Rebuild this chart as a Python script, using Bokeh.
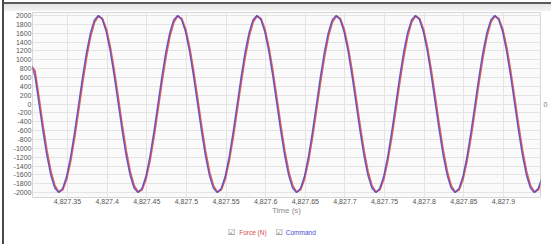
import numpy as np
from bokeh.plotting import figure
from bokeh.models import FixedTicker, NumeralTickFormatter, Range1d, Div, LinearAxis
from bokeh.layouts import column, row
from bokeh.embed import file_html
from bokeh.resources import INLINE

# ---- data ----
t_start = 4827.304
t_step = 0.005

command = [
    900, 618, 0, -618, -1176, -1618, -1902,
    -2000, -1902, -1618, -1176, -618, 0, 618, 1176, 1618, 1902, 2000, 1902, 1618, 1176, 618, 0, -618, -1176, -1618, -1902,
    -2000, -1902, -1618, -1176, -618, 0, 618, 1176, 1618, 1902, 2000, 1902, 1618, 1176, 618, 0, -618, -1176, -1618, -1902,
    -2000, -1902, -1618, -1176, -618, 0, 618, 1176, 1618, 1902, 2000, 1902, 1618, 1176, 618, 0, -618, -1176, -1618, -1902,
    -2000, -1902, -1618, -1176, -618, 0, 618, 1176, 1618, 1902, 2000, 1902, 1618, 1176, 618, 0, -618, -1176, -1618, -1902,
    -2000, -1902, -1618, -1176, -618, 0, 618, 1176, 1618, 1902, 2000, 1902, 1618, 1176, 618, 0, -618, -1176, -1618, -1902,
    -2000, -1902, -1618, -1176, -618, 0, 618, 1176, 1618, 1902, 2000, 1902, 1618, 1176, 618, 0, -618, -1176, -1618, -1902,
    -2000, -1902, -1618,
]

force = [
    870, 745, 139, -481, -1055, -1524, -1845,
    -1985, -1931, -1688, -1279, -745, -139, 481, 1055, 1524, 1845, 1985, 1931, 1688, 1279, 745, 139, -481, -1055, -1524, -1845,
    -1985, -1931, -1688, -1279, -745, -139, 481, 1055, 1524, 1845, 1985, 1931, 1688, 1279, 745, 139, -481, -1055, -1524, -1845,
    -1985, -1931, -1688, -1279, -745, -139, 481, 1055, 1524, 1845, 1985, 1931, 1688, 1279, 745, 139, -481, -1055, -1524, -1845,
    -1985, -1931, -1688, -1279, -745, -139, 481, 1055, 1524, 1845, 1985, 1931, 1688, 1279, 745, 139, -481, -1055, -1524, -1845,
    -1985, -1931, -1688, -1279, -745, -139, 481, 1055, 1524, 1845, 1985, 1931, 1688, 1279, 745, 139, -481, -1055, -1524, -1845,
    -1985, -1931, -1688, -1279, -745, -139, 481, 1055, 1524, 1845, 1985, 1931, 1688, 1279, 745, 139, -481, -1055, -1524, -1845,
    -1985, -1931, -1688,
]

time = t_start + t_step * np.arange(len(command))

x_ticks = [4827.35, 4827.4, 4827.45, 4827.5, 4827.55, 4827.6, 4827.65,
           4827.7, 4827.75, 4827.8, 4827.85, 4827.9]
y_ticks = [-2000, -1800, -1600, -1400, -1200, -1000, -800, -600, -400, -200,
           0, 200, 400, 600, 800, 1000, 1200, 1400, 1600, 1800, 2000]
right_ticks = [0]

series_names = ["Force (N)", "Command"]
series_colors = ["#d94a4a", "#4a4ad2"]
x_title = "Time (s)"

FONT = "Liberation Sans"

p = figure(width=547, height=206, output_backend="svg", toolbar_location=None,
           x_range=Range1d(4827.30585, 4827.94668), y_range=Range1d(-2110, 2066),
           min_border_left=28, min_border_right=11, min_border_top=1, min_border_bottom=16)

p.background_fill_color = "#fafafa"
p.border_fill_color = "#ffffff"
p.outline_line_color = "#d6d6d6"

p.xaxis.ticker = FixedTicker(ticks=x_ticks)
p.yaxis.ticker = FixedTicker(ticks=y_ticks)
p.xaxis.formatter = NumeralTickFormatter(format="0,0.[00]")
p.yaxis.formatter = NumeralTickFormatter(format="0")

raxis = LinearAxis(ticker=FixedTicker(ticks=right_ticks), formatter=NumeralTickFormatter(format="0"))
p.add_layout(raxis, "right")

for ax in (p.xaxis[0], p.yaxis[0], raxis):
    ax.axis_line_color = None
    ax.major_tick_line_color = None
    ax.minor_tick_line_color = None
    ax.major_tick_out = 0
    ax.major_tick_in = 0
    ax.major_label_text_font = FONT
    ax.major_label_text_font_size = "7px"
    ax.major_label_text_color = "#555555"
    ax.major_label_standoff = 1
raxis.major_label_standoff = 3
raxis.major_label_text_color = "#777777"

p.xaxis[0].axis_label = x_title
p.xaxis[0].axis_label_text_font = FONT
p.xaxis[0].axis_label_text_font_size = "8px"
p.xaxis[0].axis_label_text_font_style = "normal"
p.xaxis[0].axis_label_text_color = "#8a8a8a"
p.xaxis[0].axis_label_standoff = -1

p.xgrid.grid_line_color = "#e4e4e4"
p.ygrid.grid_line_color = "#e4e4e4"

p.line(time, force, line_color=series_colors[0], line_width=1.9, line_alpha=0.9)
p.line(time, command, line_color=series_colors[1], line_width=1.3, line_alpha=0.85)

legend_html = (
    '<div style="padding-left:224px; padding-top:11px; line-height:10px; white-space:nowrap;">'
    '<span style="color:#666666; font-family:DejaVu Sans; font-size:8px;">\u2611</span>'
    f'<span style="color:{series_colors[0]}; margin-left:4px;">{series_names[0]}</span>'
    '<span style="color:#666666; font-family:DejaVu Sans; font-size:8px; margin-left:9px;">\u2611</span>'
    f'<span style="color:{series_colors[1]}; margin-left:3px;">{series_names[1]}</span>'
    '</div>'
)
legend = Div(text=legend_html, width=547, height=27, margin=0,
             styles={"font-family": FONT, "font-size": "6.5px", "padding": "0"})

top_band = Div(text="", width=547, height=11, margin=0,
               styles={"background": "linear-gradient(to bottom, #ffffff 0px, #ffffff 2px, #5a5a5a 2px, "
                                     "#5a5a5a 4px, #e4e4e4 4px, #f3f3f3 11px)"})
left_bar = Div(text="", width=4, height=244, margin=0,
               styles={"background": "linear-gradient(to right, #ffffff 0px, #ffffff 2px, #4a4a4a 2px, #4a4a4a 4px)"})

layout = row(left_bar, column(top_band, p, legend, spacing=0), spacing=0)

open("out.html", "w").write(file_html(layout, INLINE))
